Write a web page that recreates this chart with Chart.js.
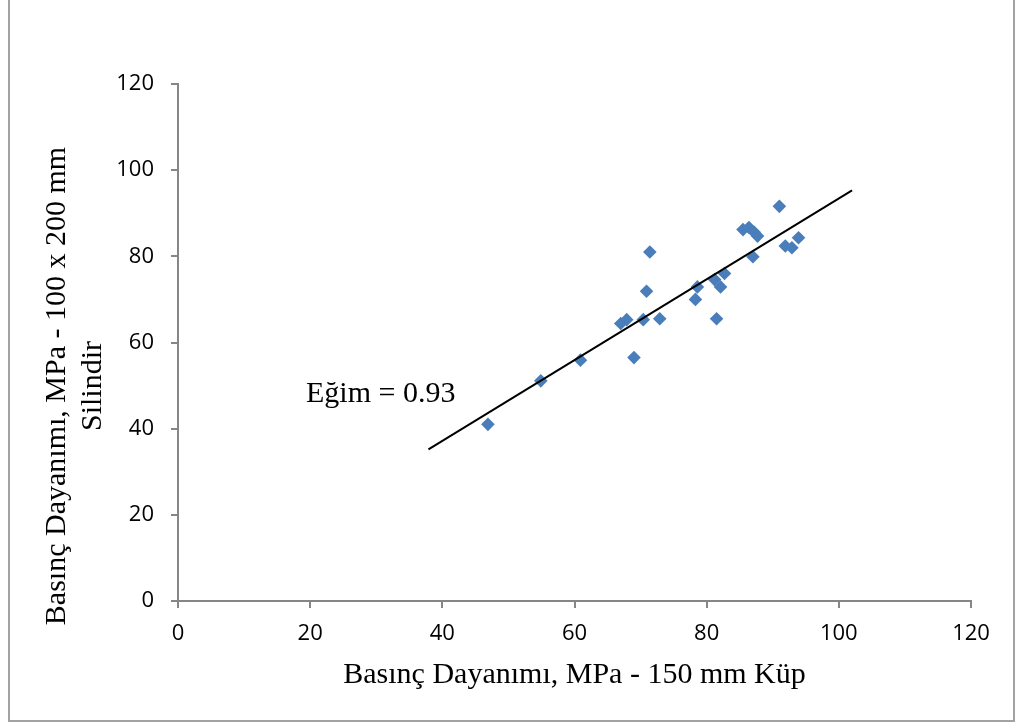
<!DOCTYPE html>
<html>
<head>
<meta charset="utf-8">
<script src="https://cdn.jsdelivr.net/npm/chart.js@4/dist/chart.umd.min.js"></script>
<style>
	html, body { margin: 0; padding: 0; background: #fff; }
	#wrap { position: relative; width: 1015px; height: 723px; overflow: hidden; }
	#frame {
		position: absolute; left: 8px; top: -4px; width: 1003px; height: 722px;
		border: 2px solid #a3a3a3;
	}
	#chart { position: absolute; left: 0; top: 0; }
</style>
</head>
<body>
<div id="wrap">
	<div id="frame"></div>
	<canvas id="chart" width="1015" height="723"></canvas>
</div>
<script>
	"use strict";

	// 150 mm cube strength (x) vs 100 x 200 mm cylinder strength (y), MPa
	var kupDayanim = [46.9, 54.9, 60.9, 69.0, 67.0, 67.9, 70.4, 72.9, 70.9, 71.4, 78.3, 78.6, 81.5,
		81.2, 82.1, 82.7, 87.0, 85.5, 86.4, 87.2, 87.7, 91.0, 91.9, 92.9, 93.9];
	var silindirDayanim = [41.0, 51.1, 55.9, 56.5, 64.4, 65.3, 65.3, 65.5, 71.9, 81.0, 70.0, 72.9, 65.5,
		74.6, 72.9, 76.0, 79.9, 86.2, 86.7, 85.6, 84.7, 91.6, 82.4, 82.0, 84.3];

	// trend line end points
	var egimX = [37.9, 102.0];
	var egimY = [35.2, 95.3];

	var axisTicks = [0, 20, 40, 60, 80, 100, 120];
	var xTitle = "Basınç Dayanımı, MPa - 150 mm Küp";
	var yTitle = ["Basınç Dayanımı, MPa - 100 x 200 mm", "Silindir"];
	var egimLabel = "Eğim = 0.93";

	var axisGray = "#868686";
	var serif = '30px "Liberation Serif", "Times New Roman", serif';

	function toPoints(xs, ys) {
		return xs.map(function (x, i) { return { x: x, y: ys[i] }; });
	}

	function axisOptions(fitFn, pad) {
		return {
			type: "linear",
			min: axisTicks[0],
			max: axisTicks[axisTicks.length - 1],
			afterBuildTicks: function (scale) {
				scale.ticks = axisTicks.map(function (v) { return { value: v }; });
			},
			afterFit: fitFn,
			grid: {
				display: true,
				drawOnChartArea: false,
				drawTicks: true,
				tickLength: 7,
				color: axisGray,
				lineWidth: 2
			},
			border: { color: axisGray, width: 2 },
			ticks: {
				color: "#000",
				padding: pad,
				font: { family: '"Open Sans", sans-serif', size: 22 }
			}
		};
	}

	// axis titles and slope label, drawn on the canvas
	var textPlugin = {
		id: "textLabels",
		afterDraw: function (chart) {
			var ctx = chart.ctx, area = chart.chartArea;
			ctx.save();
			ctx.fillStyle = "#000";
			ctx.font = serif;
			ctx.textBaseline = "alphabetic";

			ctx.textAlign = "center";
			ctx.fillText(xTitle, (area.left + area.right) / 2, 683);

			ctx.textAlign = "left";
			ctx.fillText(egimLabel, 306, 402);

			ctx.translate(0, 386);
			ctx.rotate(-Math.PI / 2);
			ctx.textAlign = "center";
			ctx.fillText(yTitle[0], 0, 65);
			ctx.fillText(yTitle[1], 0, 101);
			ctx.restore();
		}
	};

	new Chart(document.getElementById("chart"), {
		type: "scatter",
		data: {
			datasets: [{
				label: "Eğim",
				data: toPoints(egimX, egimY),
				showLine: true,
				borderColor: "#000",
				borderWidth: 2,
				pointRadius: 0,
				fill: false
			}, {
				label: "Veri",
				data: toPoints(kupDayanim, silindirDayanim),
				pointStyle: "rectRot",
				pointRadius: 6.8,
				pointBorderWidth: 0,
				pointBackgroundColor: "#4a7ebb",
				pointBorderColor: "#4a7ebb"
			}]
		},
		options: {
			responsive: false,
			animation: false,
			layout: { padding: { top: 84, right: 44, left: 0, bottom: 0 } },
			plugins: {
				legend: { display: false },
				tooltip: { enabled: false }
			},
			scales: {
				x: axisOptions(function (s) { s.height = 122; }, 13),
				y: axisOptions(function (s) { s.width = 178; }, 17)
			}
		},
		plugins: [textPlugin]
	});
</script>
</body>
</html>
